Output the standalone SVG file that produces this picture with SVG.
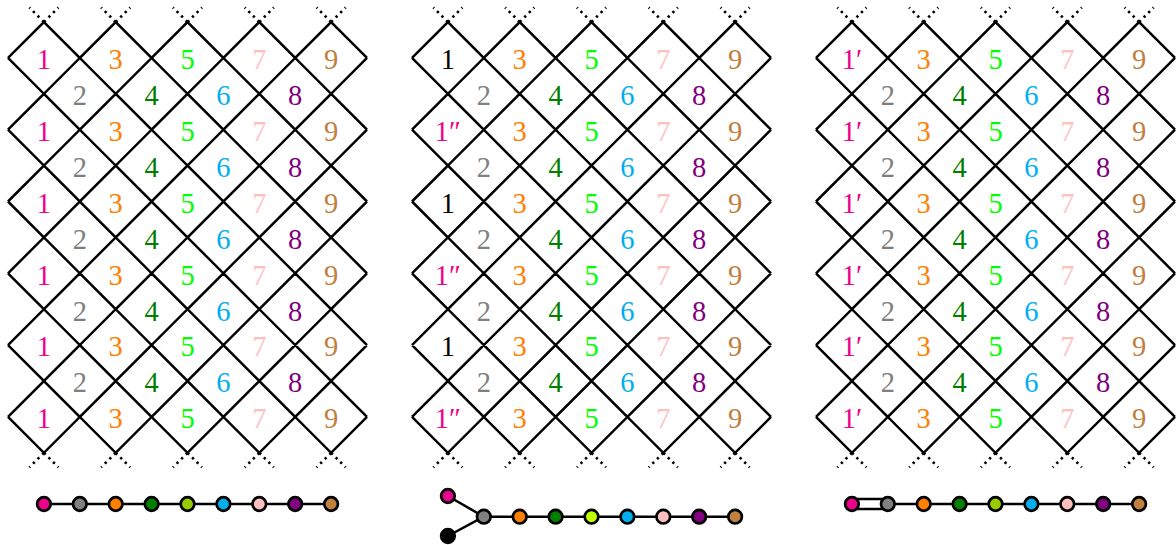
<svg xmlns="http://www.w3.org/2000/svg" xmlns:xlink="http://www.w3.org/1999/xlink" width="1176" height="545" viewBox="0 0 1176 545">
<style>
.grid{fill:none;stroke:#000;stroke-width:2.5;stroke-linejoin:miter}
.dots{fill:none;stroke:#000;stroke-width:2.6;stroke-dasharray:2.4 4.1}
text{font-family:"Liberation Serif","DejaVu Serif",serif;font-size:28.5px;text-anchor:middle}
.c1{fill:#EC008C}.c2{fill:#808080}.c3{fill:#FF8000}.c4{fill:#008000}.c5{fill:#00FF00}.c6{fill:#00AEEF}.c7{fill:#FFC0C0}.c8{fill:#800080}.c9{fill:#BF8040}.ck{fill:#000}
.edge{stroke:#000;stroke-width:2.5;fill:none}
.node{stroke:#000;stroke-width:2.7}
</style>
<defs>
<g id="lattice">
<path class="grid" d="M8,57.9 l35.9,-35.9 35.9,35.9 35.9,-35.9 35.9,35.9 35.9,-35.9 35.9,35.9 35.9,-35.9 35.9,35.9 35.9,-35.9 35.9,35.9 M8,57.9 l35.9,35.9 35.9,-35.9 35.9,35.9 35.9,-35.9 35.9,35.9 35.9,-35.9 35.9,35.9 35.9,-35.9 35.9,35.9 35.9,-35.9
M8,129.7 l35.9,-35.9 35.9,35.9 35.9,-35.9 35.9,35.9 35.9,-35.9 35.9,35.9 35.9,-35.9 35.9,35.9 35.9,-35.9 35.9,35.9 M8,129.7 l35.9,35.9 35.9,-35.9 35.9,35.9 35.9,-35.9 35.9,35.9 35.9,-35.9 35.9,35.9 35.9,-35.9 35.9,35.9 35.9,-35.9
M8,201.5 l35.9,-35.9 35.9,35.9 35.9,-35.9 35.9,35.9 35.9,-35.9 35.9,35.9 35.9,-35.9 35.9,35.9 35.9,-35.9 35.9,35.9 M8,201.5 l35.9,35.9 35.9,-35.9 35.9,35.9 35.9,-35.9 35.9,35.9 35.9,-35.9 35.9,35.9 35.9,-35.9 35.9,35.9 35.9,-35.9
M8,273.3 l35.9,-35.9 35.9,35.9 35.9,-35.9 35.9,35.9 35.9,-35.9 35.9,35.9 35.9,-35.9 35.9,35.9 35.9,-35.9 35.9,35.9 M8,273.3 l35.9,35.9 35.9,-35.9 35.9,35.9 35.9,-35.9 35.9,35.9 35.9,-35.9 35.9,35.9 35.9,-35.9 35.9,35.9 35.9,-35.9
M8,345.1 l35.9,-35.9 35.9,35.9 35.9,-35.9 35.9,35.9 35.9,-35.9 35.9,35.9 35.9,-35.9 35.9,35.9 35.9,-35.9 35.9,35.9 M8,345.1 l35.9,35.9 35.9,-35.9 35.9,35.9 35.9,-35.9 35.9,35.9 35.9,-35.9 35.9,35.9 35.9,-35.9 35.9,35.9 35.9,-35.9
M8,416.9 l35.9,-35.9 35.9,35.9 35.9,-35.9 35.9,35.9 35.9,-35.9 35.9,35.9 35.9,-35.9 35.9,35.9 35.9,-35.9 35.9,35.9 M8,416.9 l35.9,35.9 35.9,-35.9 35.9,35.9 35.9,-35.9 35.9,35.9 35.9,-35.9 35.9,35.9 35.9,-35.9 35.9,35.9 35.9,-35.9"/>
<path class="dots" d="M43.9,22 l-14.5,-14.5 M43.9,22 l14.5,-14.5 M115.7,22 l-14.5,-14.5 M115.7,22 l14.5,-14.5 M187.5,22 l-14.5,-14.5 M187.5,22 l14.5,-14.5 M259.3,22 l-14.5,-14.5 M259.3,22 l14.5,-14.5 M331.1,22 l-14.5,-14.5 M331.1,22 l14.5,-14.5
M43.9,452.8 l-14.5,14.5 M43.9,452.8 l14.5,14.5 M115.7,452.8 l-14.5,14.5 M115.7,452.8 l14.5,14.5 M187.5,452.8 l-14.5,14.5 M187.5,452.8 l14.5,14.5 M259.3,452.8 l-14.5,14.5 M259.3,452.8 l14.5,14.5 M331.1,452.8 l-14.5,14.5 M331.1,452.8 l14.5,14.5"/>
</g>
<g id="odd">
<text class="c3" x="115.7" y="0">3</text><text class="c5" x="187.5" y="0">5</text><text class="c7" x="259.3" y="0">7</text><text class="c9" x="331.1" y="0">9</text>
</g>
<g id="even">
<text class="c2" x="79.8" y="0">2</text><text class="c4" x="151.6" y="0">4</text><text class="c6" x="223.4" y="0">6</text><text class="c8" x="295.2" y="0">8</text>
</g>
<g id="rows">
<use xlink:href="#odd" y="69.2"/><use xlink:href="#odd" y="141"/><use xlink:href="#odd" y="212.8"/><use xlink:href="#odd" y="284.6"/><use xlink:href="#odd" y="356.4"/><use xlink:href="#odd" y="428.2"/>
<use xlink:href="#even" y="105.1"/><use xlink:href="#even" y="176.9"/><use xlink:href="#even" y="248.7"/><use xlink:href="#even" y="320.5"/><use xlink:href="#even" y="392.3"/>
</g>
</defs>

<g id="panel1">
<use xlink:href="#lattice"/>
<use xlink:href="#rows"/>
<g class="c1">
<text x="43.9" y="69.2">1</text><text x="43.9" y="141">1</text><text x="43.9" y="212.8">1</text><text x="43.9" y="284.6">1</text><text x="43.9" y="356.4">1</text><text x="43.9" y="428.2">1</text>
</g>
</g>

<g id="panel2" transform="translate(404,0)">
<use xlink:href="#lattice"/>
<use xlink:href="#rows"/>
<text class="ck" x="43.9" y="69.2">1</text><text class="c1" x="43.9" y="141">1″</text><text class="ck" x="43.9" y="212.8">1</text><text class="c1" x="43.9" y="284.6">1″</text><text class="ck" x="43.9" y="356.4">1</text><text class="c1" x="43.9" y="428.2">1″</text>
</g>

<g id="panel3" transform="translate(808,0)">
<use xlink:href="#lattice"/>
<use xlink:href="#rows"/>
<g class="c1">
<text x="43.9" y="69.2">1′</text><text x="43.9" y="141">1′</text><text x="43.9" y="212.8">1′</text><text x="43.9" y="284.6">1′</text><text x="43.9" y="356.4">1′</text><text x="43.9" y="428.2">1′</text>
</g>
</g>

<g id="connectors">
<path class="edge" d="M43.9,504 H331.1"/>
<path class="edge" d="M447.9,496 L483.8,516.7 L447.9,536 M483.8,516.7 H735.1"/>
<path class="edge" d="M851.9,499 H887.8 M851.9,509 H887.8 M887.8,504 H1139.1"/>
</g>

<g id="dynkin1">
<g id="d1n1"><circle class="node c1" cx="43.9" cy="504" r="6.8"/></g>
<g id="d1n2"><circle class="node c2" cx="79.8" cy="504" r="6.8"/></g>
<g id="d1n3"><circle class="node c3" cx="115.7" cy="504" r="6.8"/></g>
<g id="d1n4"><circle class="node" fill="#007F00" cx="151.6" cy="504" r="6.8"/></g>
<g id="d1n5"><circle class="node" fill="#99CC00" cx="187.5" cy="504" r="6.8"/></g>
<g id="d1n6"><circle class="node c6" cx="223.4" cy="504" r="6.8"/></g>
<g id="d1n7"><circle class="node" fill="#FFBFBF" cx="259.3" cy="504" r="6.8"/></g>
<g id="d1n8"><circle class="node c8" cx="295.2" cy="504" r="6.8"/></g>
<g id="d1n9"><circle class="node c9" cx="331.1" cy="504" r="6.8"/></g>
</g>

<g id="dynkin2">
<g id="d2n1"><circle class="node c1" cx="447.9" cy="496" r="6.8"/></g>
<g id="d2n0"><circle class="node ck" cx="447.9" cy="536" r="6.8"/></g>
<g id="d2n2"><circle class="node c2" cx="483.8" cy="516.7" r="6.8"/></g>
<g id="d2n3"><circle class="node c3" cx="519.7" cy="516.7" r="6.8"/></g>
<g id="d2n4"><circle class="node" fill="#007F00" cx="555.6" cy="516.7" r="6.8"/></g>
<g id="d2n5"><circle class="node" fill="#BFFF00" cx="591.5" cy="516.7" r="6.8"/></g>
<g id="d2n6"><circle class="node c6" cx="627.4" cy="516.7" r="6.8"/></g>
<g id="d2n7"><circle class="node" fill="#FFBFBF" cx="663.3" cy="516.7" r="6.8"/></g>
<g id="d2n8"><circle class="node c8" cx="699.2" cy="516.7" r="6.8"/></g>
<g id="d2n9"><circle class="node c9" cx="735.1" cy="516.7" r="6.8"/></g>
</g>

<g id="dynkin3">
<g id="d3n1"><circle class="node c1" cx="851.9" cy="504" r="6.8"/></g>
<g id="d3n2"><circle class="node c2" cx="887.8" cy="504" r="6.8"/></g>
<g id="d3n3"><circle class="node c3" cx="923.7" cy="504" r="6.8"/></g>
<g id="d3n4"><circle class="node" fill="#007F00" cx="959.6" cy="504" r="6.8"/></g>
<g id="d3n5"><circle class="node" fill="#99CC00" cx="995.5" cy="504" r="6.8"/></g>
<g id="d3n6"><circle class="node c6" cx="1031.4" cy="504" r="6.8"/></g>
<g id="d3n7"><circle class="node" fill="#FFBFBF" cx="1067.3" cy="504" r="6.8"/></g>
<g id="d3n8"><circle class="node c8" cx="1103.2" cy="504" r="6.8"/></g>
<g id="d3n9"><circle class="node c9" cx="1139.1" cy="504" r="6.8"/></g>
</g>
</svg>
